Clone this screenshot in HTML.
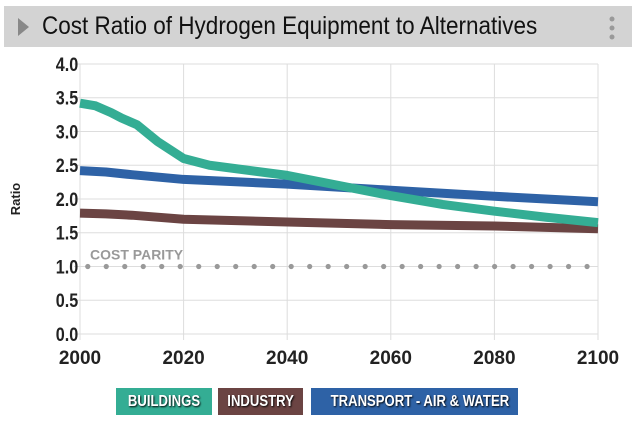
<!DOCTYPE html>
<html><head><meta charset="utf-8"><style>
body{margin:0;width:636px;height:422px;background:#fff;overflow:hidden;font-family:"Liberation Sans",sans-serif;}
#title{position:absolute;left:4px;top:6px;width:628px;height:41px;background:#d3d3d3;}
#title span{position:absolute;left:38px;top:6px;font-size:25px;color:#111;transform:scaleX(0.9);transform-origin:left;white-space:nowrap;}
.leg{position:absolute;top:388px;height:27px;color:#fff;font-weight:bold;font-size:16px;line-height:27px;text-align:center;text-shadow:1px 1px 2px #000;}
.leg span{display:inline-block;transform:scaleX(0.82);white-space:nowrap}
</style></head><body>
<div id="title">
<svg style="position:absolute;left:14px;top:12px" width="12" height="18"><polygon points="0,0 11,9 0,18" fill="#888"/></svg>
<span>Cost Ratio of Hydrogen Equipment to Alternatives</span>
<svg style="position:absolute;left:604px;top:9px" width="8" height="26"><circle cx="4" cy="4" r="2.5" fill="#999"/><circle cx="4" cy="13" r="2.5" fill="#999"/><circle cx="4" cy="22" r="2.5" fill="#999"/></svg>
</div>
<svg id="chart" width="636" height="422" style="position:absolute;left:0;top:0"></svg>
<div class="leg" style="left:116px;width:96px;background:#34ad94"><span>BUILDINGS</span></div>
<div class="leg" style="left:218px;width:85px;background:#6b4443"><span>INDUSTRY</span></div>
<div class="leg" style="left:311px;width:207px;background:#2e62a6"><span>TRANSPORT - AIR &amp; WATER</span></div>
<script>
const yTicks=[0,0.5,1,1.5,2,2.5,3,3.5,4];
const xTicks=[2000,2020,2040,2060,2080,2100];
const bYears=[2000,2003,2006,2008,2011,2015,2020,2025,2030,2040,2050,2060,2070,2080,2090,2100];
const bVals=[3.42,3.38,3.28,3.2,3.1,2.85,2.6,2.5,2.45,2.35,2.2,2.05,1.92,1.82,1.73,1.65];
const tYears=[2000,2005,2010,2020,2040,2060,2080,2100];
const tVals=[2.42,2.4,2.36,2.29,2.22,2.13,2.04,1.96];
const iYears=[2000,2005,2010,2020,2040,2060,2080,2100];
const iVals=[1.79,1.78,1.76,1.70,1.66,1.62,1.60,1.56];
const parity=1.0;
const svg=document.getElementById('chart');const NS='http://www.w3.org/2000/svg';
const X=v=>80+(v-2000)/100*518, Y=v=>334-v*67.5;
function mk(t,a,p){const e=document.createElementNS(NS,t);for(const k in a)e.setAttribute(k,a[k]);(p||svg).appendChild(e);return e;}
yTicks.forEach(v=>{const g=mk('line',{x1:74,x2:598,y1:Y(v),y2:Y(v),stroke:'#ddd'});


const t=mk('text',{x:68,y:Y(v)+7,'text-anchor':'end','font-size':19,'font-weight':'bold',fill:'#222',transform:`translate(${68*0.15},0) scale(0.85,1)`,'transform-origin':'68 0'});t.textContent=v.toFixed(1);

});
xTicks.forEach(v=>{const g=mk('line',{x1:X(v),x2:X(v),y1:Y(4),y2:Y(0)+6,stroke:'#ddd'});


const t=mk('text',{x:X(v),y:364,'text-anchor':'middle','font-size':19,'font-weight':'bold',fill:'#222'});t.textContent=v;

});
const yt=mk('text',{x:20,y:199,'text-anchor':'middle','font-size':13,'font-weight':'bold',fill:'#222',transform:'rotate(-90 20 199)'});yt.textContent='Ratio';


for(let yr=2001.5;yr<2100;yr+=3.57){const c=mk('circle',{cx:X(yr),cy:Y(parity),r:2.6,fill:'#999'});

}
const pl=mk('text',{x:90,y:Y(parity)-7,'font-size':14,'font-weight':'bold',fill:'#999'});pl.textContent='COST PARITY';


function line(xs,ys,c,n){const p=mk('polyline',{points:xs.map((x,i)=>X(x)+','+Y(ys[i])).join(' '),fill:'none',stroke:c,'stroke-width':9,'stroke-linejoin':'round'});

}
line(iYears,iVals,'#6b4443','industry-line');
line(tYears,tVals,'#2e62a6','transport-line');
line(bYears,bVals,'#34ad94','buildings-line');
</script>
</body></html>
